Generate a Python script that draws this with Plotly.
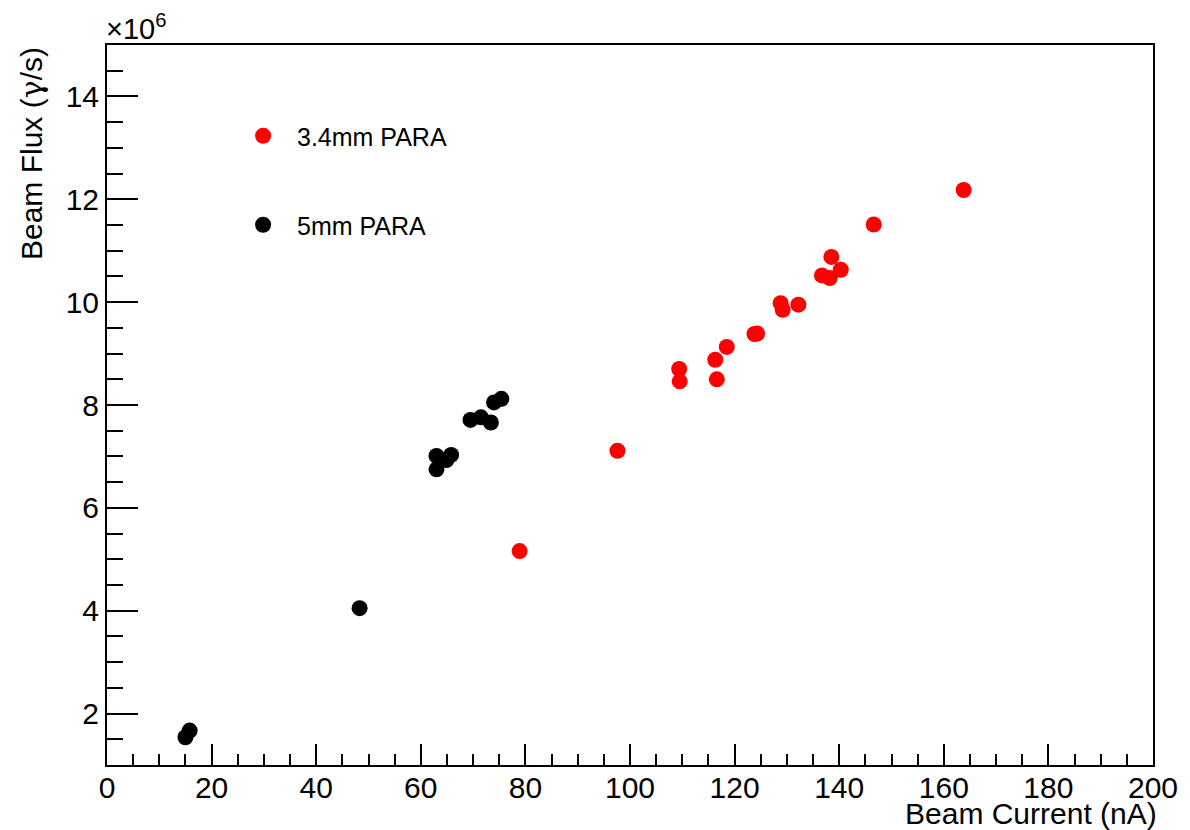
import plotly.graph_objects as go

# Beam current (nA) and beam flux (x10^6 gamma/s)
para34_current = [78.9, 97.6, 109.4, 109.5, 116.3, 116.6, 118.5, 123.8, 124.3,
                  128.8, 129.2, 132.2, 136.7, 138.2, 138.5, 140.3, 146.6, 163.8]
para34_flux = [5.16, 7.11, 8.70, 8.46, 8.88, 8.50, 9.13, 9.38, 9.39,
               9.98, 9.85, 9.95, 10.52, 10.47, 10.88, 10.63, 11.51, 12.18]

para5_current = [15.0, 15.8, 48.3, 63.0, 63.0, 64.9, 65.8, 69.5, 71.5, 73.4, 74.0, 75.4]
para5_flux = [1.54, 1.67, 4.05, 7.01, 6.75, 6.93, 7.03, 7.71, 7.76, 7.66, 8.05, 8.12]

x_ticks = [0, 20, 40, 60, 80, 100, 120, 140, 160, 180, 200]
y_ticks = [2, 4, 6, 8, 10, 12, 14]

FONT = "Liberation Sans, Arial, Helvetica, sans-serif"
NB = "\u00a0\u00a0"

fig = go.Figure()
fig.add_trace(go.Scatter(x=para34_current, y=para34_flux, mode="markers",
                         name=NB + "3.4mm PARA", showlegend=True,
                         marker=dict(color="#ff0000", size=16, line=dict(width=0)),
                         legend="legend"))
fig.add_trace(go.Scatter(x=para5_current, y=para5_flux, mode="markers",
                         name=NB + "5mm PARA", showlegend=True,
                         marker=dict(color="#000000", size=16, line=dict(width=0)),
                         legend="legend2"))

L, R, T, B = 107, 30, 45, 65
W, H = 1190, 830
pw, ph = W - L - R, H - T - B

axis_common = dict(showgrid=False, zeroline=False, showline=True, linecolor="black",
                   linewidth=2, mirror=True, ticks="inside", tickcolor="black",
                   tickwidth=1.5, tickfont=dict(family=FONT, size=30, color="black"))

fig.update_xaxes(range=[0, 200], tickvals=x_ticks, ticklen=21, ticklabelstandoff=-5,
                 minor=dict(dtick=5, ticks="inside", ticklen=11, tickcolor="black", tickwidth=1.5),
                 **axis_common)
fig.update_yaxes(range=[1, 15], tickvals=y_ticks, ticklen=31,
                 minor=dict(dtick=0.5, ticks="inside", ticklen=16, tickcolor="black", tickwidth=1.5),
                 **axis_common)

legend_common = dict(bgcolor="rgba(0,0,0,0)", borderwidth=0,
                     font=dict(family=FONT, size=25, color="black"),
                     xanchor="left", yanchor="middle")
fig.update_layout(
    width=W, height=H,
    showlegend=True,
    margin=dict(l=L, r=R, t=T, b=B, pad=0),
    paper_bgcolor="white", plot_bgcolor="white",
    legend=dict(x=(244 - L) / pw, y=(H - B - 136) / ph, **legend_common),
    legend2=dict(x=(244 - L) / pw, y=(H - B - 225) / ph, **legend_common),
    annotations=[
        dict(text="Beam Current (nA)", xref="paper", yref="paper", x=1, y=-(813 - (H - B)) / ph,
             xanchor="right", yanchor="middle", showarrow=False, xshift=6,
             font=dict(family=FONT, size=30, color="black")),
        dict(text="Beam Flux (<span style='font-family:DejaVu Serif'>γ</span>/s)",
             xref="paper", yref="paper", x=-(107 - 31) / pw, y=1,
             xanchor="center", yanchor="top", textangle=-90, showarrow=False,
             font=dict(family=FONT, size=30, color="black")),
        dict(text="×10<sup>6</sup>", xref="paper", yref="paper", x=-3 / pw, y=1,
             xanchor="left", yanchor="bottom", showarrow=False, yshift=-2,
             font=dict(family=FONT, size=29, color="black")),
    ],
)

fig.write_html("out.html")
